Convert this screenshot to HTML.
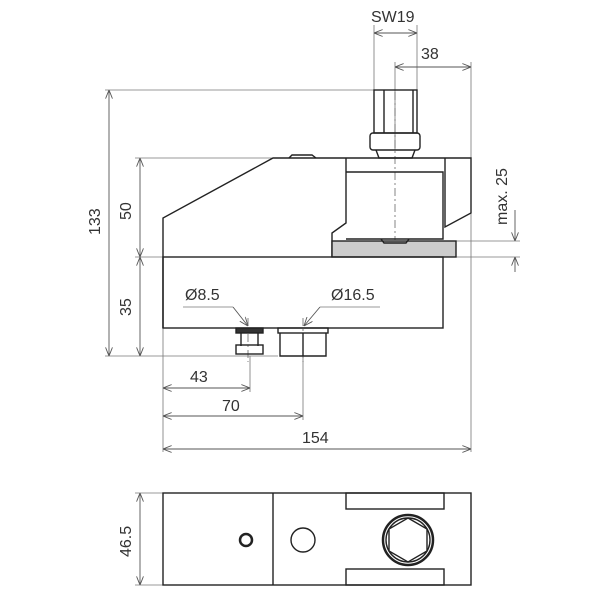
<!DOCTYPE html><html><head><style>body{margin:0;background:#fff}svg{display:block}</style></head><body>
<svg width="600" height="600" viewBox="0 0 600 600" fill="none" stroke="#222" stroke-width="1.4">
<defs><marker id="a" markerWidth="10" markerHeight="8" refX="10" refY="4" orient="auto-start-reverse"><path d="M0,0L10,4L0,8" stroke="#555" stroke-width="1" fill="none"/></marker></defs>
<g stroke="#777" stroke-width="0.8">
<line x1="105" y1="90" x2="374" y2="90"/><line x1="105" y1="356" x2="278" y2="356"/>
<line x1="135" y1="158" x2="273" y2="158"/><line x1="135" y1="257" x2="163" y2="257"/>
<line x1="374" y1="25" x2="374" y2="90"/><line x1="417" y1="25" x2="417" y2="90"/><line x1="395" y1="62" x2="395" y2="150"/>
<line x1="471" y1="62" x2="471" y2="452"/><line x1="163" y1="328" x2="163" y2="452"/>
<line x1="250" y1="356" x2="250" y2="392"/><line x1="303" y1="356" x2="303" y2="420"/>
<line x1="456" y1="241" x2="520" y2="241"/><line x1="456" y1="257" x2="520" y2="257"/>
<line x1="135" y1="493" x2="163" y2="493"/><line x1="135" y1="585" x2="163" y2="585"/>
<line x1="183" y1="307" x2="233" y2="307"/><line x1="320" y1="307" x2="380" y2="307"/>
</g>
<g stroke="#555" stroke-width="0.9">
<line x1="109" y1="90" x2="109" y2="356" marker-start="url(#a)" marker-end="url(#a)"/>
<line x1="140" y1="158" x2="140" y2="257" marker-start="url(#a)" marker-end="url(#a)"/>
<line x1="140" y1="257" x2="140" y2="356" marker-start="url(#a)" marker-end="url(#a)"/>
<line x1="374" y1="33" x2="417" y2="33" marker-start="url(#a)" marker-end="url(#a)"/>
<line x1="395" y1="67" x2="471" y2="67" marker-start="url(#a)" marker-end="url(#a)"/>
<line x1="163" y1="388" x2="250" y2="388" marker-start="url(#a)" marker-end="url(#a)"/>
<line x1="163" y1="416" x2="303" y2="416" marker-start="url(#a)" marker-end="url(#a)"/>
<line x1="163" y1="449" x2="471" y2="449" marker-start="url(#a)" marker-end="url(#a)"/>
<line x1="515" y1="210" x2="515" y2="241" marker-end="url(#a)"/><line x1="515" y1="272" x2="515" y2="257" marker-end="url(#a)"/>
<line x1="140" y1="493" x2="140" y2="585" marker-start="url(#a)" marker-end="url(#a)"/>
<line x1="233" y1="307" x2="248" y2="326" marker-end="url(#a)"/><line x1="320" y1="307" x2="304" y2="326" marker-end="url(#a)"/>
</g>
<g stroke="#666" stroke-width="0.8" stroke-dasharray="8,3,2,3">
<line x1="395" y1="92" x2="395" y2="240"/><line x1="248" y1="318" x2="248" y2="362"/><line x1="303" y1="318" x2="303" y2="362"/>
</g>
<path d="M163,328V218L273,158H471V213L445,227V158"/>
<path d="M346,158V223L332,233V257"/>
<path d="M346,172H443V239H346"/>
<rect x="332" y="241" width="124" height="16" fill="#ccc"/>
<path d="M381,239l3,4h22l3,-4"/>
<rect x="163" y="257" width="280" height="71"/>
<path d="M289,158l3,-3h20l4,3"/>
<rect x="374" y="90" width="43" height="43"/><line x1="384" y1="90" x2="384" y2="133"/><line x1="413" y1="90" x2="413" y2="133"/>
<rect x="370" y="133" width="50" height="17" rx="3"/><path d="M376,150l3,8h33l3,-8"/>
<rect x="236" y="328" width="27" height="5" fill="#333"/><path d="M241,333v13M258,333v13"/><rect x="236" y="345" width="27" height="9"/>
<rect x="278" y="328" width="50" height="5"/><path d="M280,333v23h46v-23M303,333v23"/>
<rect x="163" y="493" width="308" height="92"/><line x1="273" y1="493" x2="273" y2="585"/>
<rect x="346" y="493" width="98" height="16"/><rect x="346" y="569" width="98" height="16"/>
<circle cx="246" cy="540" r="6" stroke-width="2.5"/><circle cx="303" cy="540" r="12"/>
<circle cx="408" cy="540" r="25" stroke-width="2.5"/><circle cx="408" cy="540" r="22"/>
<polygon points="408,518 427,529 427,551 408,562 389,551 389,529"/>
<g font-family="Liberation Sans, Arial, sans-serif" font-size="16" font-weight="normal" fill="#333" stroke="none">
<text x="371" y="22">SW19</text><text x="421" y="59">38</text>
<text x="185" y="300">Ø8.5</text><text x="331" y="300">Ø16.5</text>
<text x="190" y="382">43</text><text x="222" y="411">70</text><text x="302" y="443">154</text>
<text transform="translate(100,235) rotate(-90)">133</text>
<text transform="translate(131,220) rotate(-90)">50</text>
<text transform="translate(131,316) rotate(-90)">35</text>
<text transform="translate(507,225) rotate(-90)">max. 25</text>
<text transform="translate(131,557) rotate(-90)">46.5</text>
</g>
</svg></body></html>
